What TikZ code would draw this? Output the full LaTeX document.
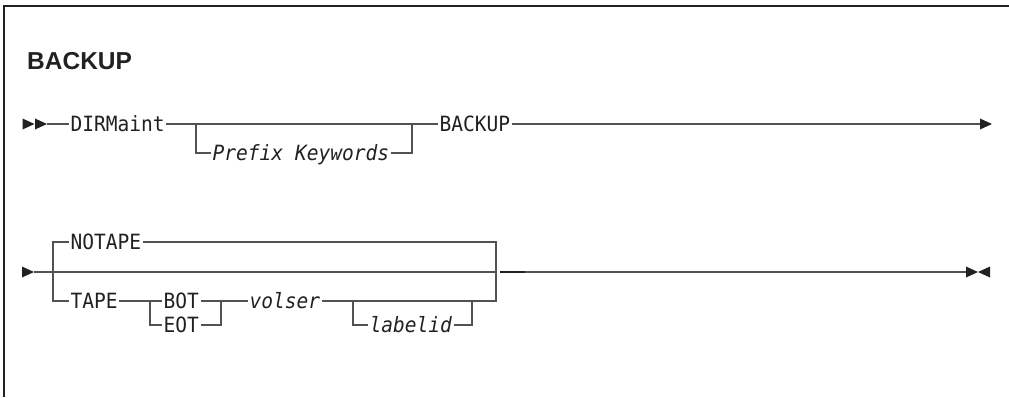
\documentclass[tikz,border=0pt]{standalone}
\usepackage{fontspec}
\setmainfont{Liberation Sans}
\newfontfamily\railfont[FakeStretch=0.93]{DejaVu Sans Mono}
\usetikzlibrary{positioning}
\definecolor{railgray}{rgb}{0.32,0.32,0.32}
\definecolor{inkgray}{rgb}{0.13,0.13,0.13}

\begin{document}
\begin{tikzpicture}[x=1pt,y=-1pt,
  kw/.style={font=\railfont\fontsize{21}{24}\selectfont,text=inkgray,inner xsep=1.5pt,inner ysep=0pt,text height=15.2pt,text depth=0pt,anchor=west},
  var/.style={kw,font=\railfont\itshape\fontsize{21}{24}\selectfont},
  rail/.style={railgray,line width=1.3pt},
  tip/.pic={\fill[inkgray] (-12,-5.5) -- (0,0) -- (-12,5.5) -- cycle;}]
\useasboundingbox (0,0) rectangle (1009,397);
\draw[line width=1.4pt,inkgray] (4,397) -- (4,6) -- (1009,6);
\node[anchor=base west,inner sep=0pt,font=\bfseries\fontsize{24.5}{30}\selectfont,text=inkgray] (title) at (27,69) {BACKUP};

% first line
\pic at (34.5,124) {tip};
\pic at (47,124) {tip};
\coordinate (s1) at (47,124);
\node[kw] (dirm) at (69,124) {DIRMaint};
\node[var] (prefix) at (211,153) {Prefix Keywords};
\node[kw] (bkup) at (438,124) {BACKUP};
\coordinate (pk1) at (196,124);
\coordinate (pk2) at (412,124);
\coordinate (e1) at (981,124);
\draw[rail] (s1) -- (dirm.west);
\draw[rail] (dirm.east) -- (bkup.west);
\draw[rail] (pk1) |- (prefix.west);
\draw[rail] (prefix.east) -| (pk2);
\draw[rail] (bkup.east) -- (e1);
\pic at (992,124) {tip};

% second line
\pic at (34,272) {tip};
\coordinate (s2) at (34,272);
\coordinate (b1) at (53,272);
\coordinate (b2) at (496,272);
\node[kw] (notape) at (69,242) {NOTAPE};
\node[kw] (tape) at (69,301) {TAPE};
\node[kw] (bot) at (162,301) {BOT};
\node[kw] (eot) at (162,325) {EOT};
\node[var] (volser) at (248,301) {volser};
\node[var] (labelid) at (368,325) {labelid};
\coordinate (c1) at (150,301);
\coordinate (c2) at (221,301);
\coordinate (d1) at (353,301);
\coordinate (d2) at (472,301);
\draw[rail] (s2) -- (b2);
\draw[rail] (notape.west) -| (b1) |- (tape.west);
\draw[rail] (notape.east) -| (b2);
\draw[rail] (volser.east) -| (b2);
\draw[rail] (tape.east) -- (bot.west);
\draw[rail] (c1) |- (eot.west);
\draw[rail] (bot.east) -- (volser.west);
\draw[rail] (eot.east) -| (c2);
\draw[rail] (d1) |- (labelid.west);
\draw[rail] (labelid.east) -| (d2);
\coordinate (t1) at (500,272);
\coordinate (t2) at (525,272);
\coordinate (e2) at (967,272);
\draw[line width=2.2pt,inkgray] (t1) -- (t2);
\draw[rail] (t2) -- (e2);
\pic at (978,272) {tip};
\pic[xscale=-1] at (978,272) {tip};
\end{tikzpicture}
\end{document}
